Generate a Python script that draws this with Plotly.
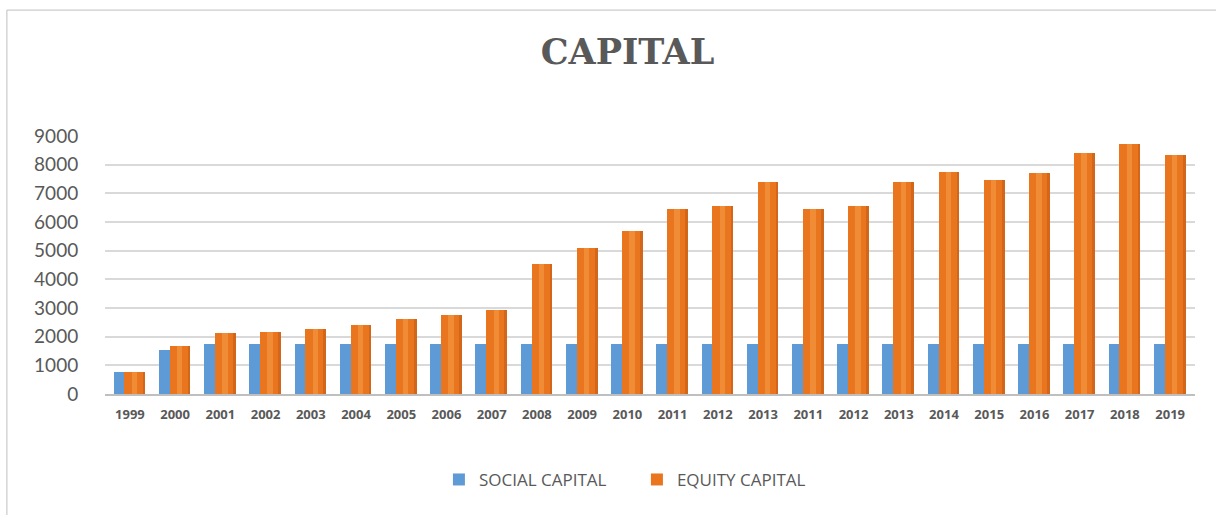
import plotly.graph_objects as go

# Year labels (2011-2013 appear twice in the source series)
years = ["1999", "2000", "2001", "2002", "2003", "2004", "2005", "2006", "2007",
         "2008", "2009", "2010", "2011", "2012", "2013", "2011", "2012", "2013",
         "2014", "2015", "2016", "2017", "2018", "2019"]

social_capital = [780, 1520, 1760, 1760, 1760, 1760, 1760, 1760, 1760,
                  1760, 1760, 1760, 1760, 1760, 1760, 1760, 1760, 1760,
                  1760, 1760, 1760, 1760, 1760, 1760]

equity_capital = [770, 1680, 2130, 2170, 2280, 2400, 2620, 2750, 2930,
                  4520, 5090, 5680, 6450, 6570, 7410, 6450, 6570, 7410,
                  7760, 7480, 7720, 8410, 8720, 8340]

y_ticks = [0, 1000, 2000, 3000, 4000, 5000, 6000, 7000, 8000, 9000]

idx = list(range(len(years)))

BLUE = "#5E9AD6"
BLUE_SIDE = "#4F86C0"
ORANGE = "#E9761F"
ORANGE_LIGHT = "#F08B36"
ORANGE_SIDE = "#D2661A"

fig = go.Figure()

# social capital column: front face + shaded side
fig.add_trace(go.Bar(x=idx, y=social_capital, name="SOCIAL CAPITAL",
                     marker=dict(color=BLUE, line=dict(width=0)),
                     offset=-0.36, width=0.30))
fig.add_trace(go.Bar(x=idx, y=social_capital, showlegend=False, hoverinfo="skip",
                     marker=dict(color=BLUE_SIDE, line=dict(width=0)),
                     offset=-0.08, width=0.10))

# equity capital column: face, highlight stripe, shaded side
fig.add_trace(go.Bar(x=idx, y=equity_capital, name="EQUITY CAPITAL",
                     marker=dict(color=ORANGE, line=dict(width=0)),
                     offset=-0.12, width=0.46))
fig.add_trace(go.Bar(x=idx, y=equity_capital, showlegend=False, hoverinfo="skip",
                     marker=dict(color=ORANGE_LIGHT, line=dict(width=0)),
                     offset=0.04, width=0.12))
fig.add_trace(go.Bar(x=idx, y=equity_capital, showlegend=False, hoverinfo="skip",
                     marker=dict(color=ORANGE_SIDE, line=dict(width=0)),
                     offset=0.28, width=0.06))

fig.update_layout(
    width=1216, height=515,
    margin=dict(l=105, r=21, t=136, b=121),
    paper_bgcolor="white", plot_bgcolor="white",
    barmode="overlay",
    bargap=0,
    title=dict(text="<b>CAPITAL</b>", x=0.516, xref="container", xanchor="center",
               y=0.899, yref="container", yanchor="middle",
               font=dict(family="DejaVu Serif", size=35, color="#595959")),
    xaxis=dict(tickvals=idx, ticktext=years, range=[-0.55, len(years) - 0.45],
               tickfont=dict(family="Open Sans", size=13, color="#595959",
                             weight="bold"),
               ticks="outside", ticklen=7, tickcolor="rgba(0,0,0,0)",
               showgrid=False, showline=True, linecolor="#BFBFBF", linewidth=2,
               zeroline=False),
    yaxis=dict(range=[0, 9000], tickvals=y_ticks,
               tickfont=dict(family="Lato", size=19, color="#595959"),
               ticks="outside", ticklen=22, tickcolor="rgba(0,0,0,0)",
               showgrid=True, gridcolor="#D9D9D9", gridwidth=1.5,
               zeroline=False, showline=False),
    legend=dict(orientation="h", x=0.488, xanchor="center", y=-0.333, yanchor="middle",
                font=dict(family="Open Sans", size=17, color="#595959"),
                entrywidth=153, itemwidth=30, traceorder="normal"),
    showlegend=True,
    shapes=[dict(type="rect", xref="paper", yref="paper",
                 x0=-0.090, x1=1.03, y0=-0.6, y1=1.488,
                 line=dict(color="#BFBFBF", width=1), fillcolor="rgba(0,0,0,0)",
                 layer="below")],
)

fig.write_html("out.html")
